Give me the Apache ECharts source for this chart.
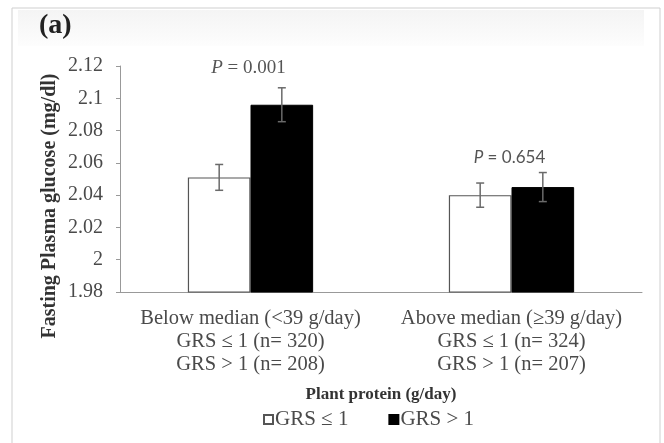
<!DOCTYPE html>
<html>
<head>
<meta charset="utf-8">
<script src="https://cdn.jsdelivr.net/npm/echarts@6/dist/echarts.min.js"></script>
<style>html,body{margin:0;padding:0;background:#fff}#c{width:664px;height:443px}</style>
</head>
<body>
<div id="c"></div>
<script>
const categories = ['Below median (<39 g/day)\nGRS \u2264 1 (n= 320)\nGRS > 1 (n= 208)', 'Above median (\u226539 g/day)\nGRS \u2264 1 (n= 324)\nGRS > 1 (n= 207)'];
const seriesNames = ['GRS \u2264 1', 'GRS > 1'];
const lowGRS = [2.051, 2.040];
const highGRS = [2.096, 2.045];
const lowErr = [0.008, 0.0075];
const highErr = [0.0105, 0.009];
const pLabels = ['0.001', '0.654'];
const yTicks = { min: 1.98, max: 2.12, interval: 0.02 };
const yTitle = 'Fasting Plasma glucose (mg/dl)';
const xTitle = 'Plant protein (g/day)';

const chart = echarts.init(document.getElementById('c'));
const serif = '"Liberation Serif", "Times New Roman", serif';
const textGrey = '#4a4a4a';

function errSeries(vals, errs, side) {
  return {
    type: 'custom',
    silent: true,
    z: 5,
    data: vals.map((v, i) => [i, v, errs[i]]),
    renderItem: function (params, api) {
      const i = api.value(0), v = api.value(1), e = api.value(2);
      const band = api.size([1, 0])[0];
      const cx = api.coord([i, v])[0] + side * band * 0.12;
      const top = api.coord([i, v + e])[1];
      const bot = api.coord([i, v - e])[1];
      const w = 4;
      const st = { stroke: '#6a6a6a', lineWidth: 1.5 };
      return {
        type: 'group',
        children: [
          { type: 'line', shape: { x1: cx, y1: top, x2: cx, y2: bot }, style: st },
          { type: 'line', shape: { x1: cx - w, y1: top, x2: cx + w, y2: top }, style: st },
          { type: 'line', shape: { x1: cx - w, y1: bot, x2: cx + w, y2: bot }, style: st }
        ]
      };
    }
  };
}

chart.setOption({
  animation: false,
  backgroundColor: '#fff',
  graphic: [
    { type: 'rect', shape: { x: 12, y: 8, width: 648, height: 445 }, style: { fill: 'none', stroke: '#cfcfcf', lineWidth: 1 }, z: -10 },
    { type: 'rect', shape: { x: 18, y: 10, width: 626, height: 36 }, style: { fill: new echarts.graphic.LinearGradient(0, 0, 0, 1, [{ offset: 0, color: '#f4f4f4' }, { offset: 1, color: '#fdfdfd' }]) }, z: -9 },
    { type: 'text', left: 39, top: 12, style: { text: '(a)', font: 'bold 28px ' + serif, fill: '#222' } },
    { type: 'text', x: 50, y: 206, rotation: Math.PI / 2, style: { text: yTitle, font: 'bold 20px ' + serif, fill: '#333', align: 'center', verticalAlign: 'middle' } }
  ],
  grid: { left: 120, right: 22, top: 66, bottom: 151 },
  legend: {
    top: 404,
    left: 258,
    itemWidth: 9,
    itemHeight: 9,
    itemGap: 40,
    icon: 'rect',
    textStyle: { fontFamily: serif, fontSize: 21, color: textGrey, padding: [0, 0, 0, -3] },
    data: seriesNames
  },
  xAxis: {
    type: 'category',
    data: categories,
    name: xTitle,
    nameLocation: 'middle',
    nameGap: 94,
    nameTextStyle: { fontFamily: serif, fontWeight: 'bold', fontSize: 17, color: '#333' },
    axisLine: { lineStyle: { color: '#999', width: 1 } },
    axisTick: { show: false },
    axisLabel: { fontFamily: serif, fontSize: 20.5, color: textGrey, lineHeight: 23, margin: 15, interval: 0 }
  },
  yAxis: {
    type: 'value',
    min: yTicks.min,
    max: yTicks.max,
    interval: yTicks.interval,
    splitLine: { show: false },
    axisLine: { show: true, lineStyle: { color: '#999', width: 1 } },
    axisTick: { show: true, length: 4, lineStyle: { color: '#999' } },
    axisLabel: { fontFamily: serif, fontSize: 20, color: textGrey, margin: 17 }
  },
  series: [
    {
      name: seriesNames[0], type: 'bar', data: lowGRS, barWidth: '24%', barGap: '0%',
      itemStyle: { color: '#fff', borderColor: '#555', borderWidth: 1.2 }
    },
    {
      name: seriesNames[1], type: 'bar', data: highGRS, barWidth: '24%', barGap: '0%',
      itemStyle: { color: '#000', borderColor: '#000', borderWidth: 1 }
    },
    errSeries(lowGRS, lowErr, -1),
    errSeries(highGRS, highErr, 1),
    {
      type: 'custom', silent: true, z: 6,
      data: pLabels.map((p, i) => [i, Math.max(lowGRS[i] + lowErr[i], highGRS[i] + highErr[i]), p]),
      renderItem: function (params, api) {
        const i = api.value(0);
        const pt = api.coord([i, api.value(1)]);
        const first = i === 0;
        const fam = first ? serif : 'Lato, "Open Sans", sans-serif';
        const fs = first ? 19 : 17;
        return {
          type: 'text',
          x: pt[0] - 2, y: pt[1] - (first ? 20 : 15),
          style: {
            text: '{i|P} = ' + pLabels[params.dataIndex],
            rich: { i: { fontStyle: 'italic', fontFamily: fam, fontSize: fs, fill: '#555' } },
            fontFamily: fam, fontSize: fs, fill: '#555',
            align: 'center', verticalAlign: 'middle'
          }
        };
      }
    }
  ]
});
</script>
</body>
</html>
